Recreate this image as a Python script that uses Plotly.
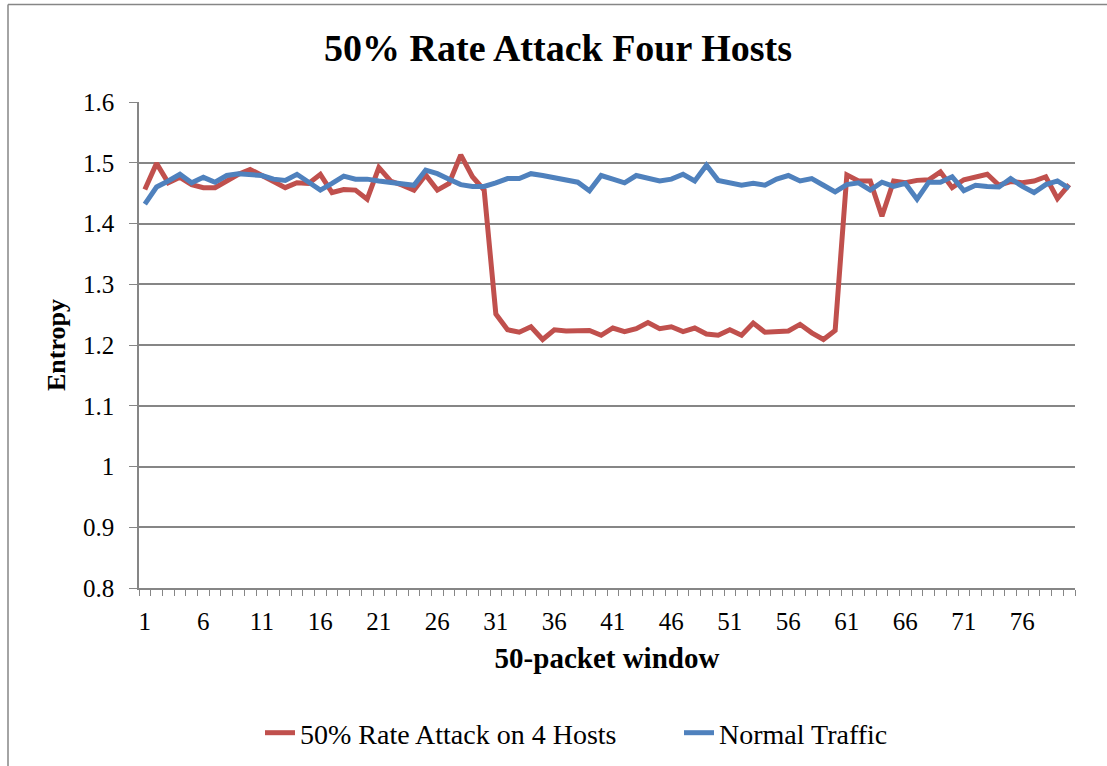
import plotly.graph_objects as go

# 50-packet window index
windows = list(range(1, 81))

attack_50pct = [
    1.456, 1.499, 1.467, 1.476, 1.464, 1.459, 1.459, 1.471, 1.481, 1.489,
    1.480, 1.469, 1.459, 1.467, 1.466, 1.481, 1.451, 1.456, 1.455, 1.440,
    1.492, 1.470, 1.463, 1.455, 1.480, 1.455, 1.466, 1.513, 1.477, 1.455,
    1.251, 1.225, 1.221, 1.230, 1.209, 1.225, 1.223, 1.224, 1.224, 1.216,
    1.228, 1.222, 1.227, 1.237, 1.227, 1.230, 1.222, 1.228, 1.218, 1.216,
    1.225, 1.216, 1.236, 1.221, 1.222, 1.223, 1.234, 1.220, 1.209, 1.224,
    1.480, 1.470, 1.470, 1.412, 1.470, 1.467, 1.471, 1.472, 1.485, 1.459,
    1.472, 1.476, 1.481, 1.463, 1.469, 1.467, 1.470, 1.477, 1.441, 1.464,
]

normal_traffic = [
    1.432, 1.460, 1.470, 1.481, 1.467, 1.476, 1.468, 1.479, 1.482, 1.481,
    1.479, 1.473, 1.471, 1.481, 1.468, 1.455, 1.466, 1.478, 1.473, 1.473,
    1.470, 1.468, 1.466, 1.463, 1.488, 1.482, 1.473, 1.464, 1.461, 1.461,
    1.467, 1.474, 1.474, 1.482, 1.479, 1.475, 1.471, 1.468, 1.454, 1.479,
    1.473, 1.467, 1.479, 1.474, 1.470, 1.473, 1.481, 1.470, 1.496, 1.471,
    1.466, 1.463, 1.466, 1.463, 1.473, 1.479, 1.470, 1.474, 1.463, 1.452,
    1.464, 1.467, 1.455, 1.468, 1.461, 1.466, 1.440, 1.468, 1.468, 1.477,
    1.454, 1.463, 1.461, 1.460, 1.474, 1.461, 1.451, 1.464, 1.470, 1.458,
]

x_tick_labels = [str(v) for v in range(1, 81, 5)]

RED = "#C0504D"
BLUE = "#4F81BD"
GRID = "#868686"
FONT = "Liberation Serif"

fig = go.Figure()
fig.add_trace(go.Scatter(
    x=windows, y=attack_50pct, mode="lines",
    name="50% Rate Attack on 4 Hosts",
    line=dict(color=RED, width=5),
))
fig.add_trace(go.Scatter(
    x=windows, y=normal_traffic, mode="lines",
    name="Normal Traffic",
    line=dict(color=BLUE, width=5),
))

W, H = 1107, 766
L, R, T, B = 139, 32, 102, 178
pw = W - L - R
ph = H - T - B

fig.update_layout(
    width=W, height=H,
    margin=dict(l=L, r=R, t=T, b=B, autoexpand=False),
    paper_bgcolor="white",
    plot_bgcolor="white",
    font=dict(family=FONT, color="#000000", size=22),
    title=dict(
        text="<b>50% Rate Attack Four Hosts</b>",
        font=dict(family=FONT, size=38, color="#000000"),
        x=558 / W, xanchor="center", y=1 - 48 / H, yanchor="middle",
    ),
    showlegend=True,
    legend=dict(
        orientation="h",
        x=(679 - L) / pw, xanchor="center",
        y=(H - B - 733) / ph, yanchor="middle",
        font=dict(family=FONT, size=28),
        entrywidth=374, entrywidthmode="pixels",
        bgcolor="rgba(0,0,0,0)",
    ),
    xaxis=dict(
        range=[0.5, 80.5],
        tickmode="array",
        tickvals=list(range(1, 81, 5)),
        ticktext=x_tick_labels,
        ticks="outside", ticklen=0, tickcolor=GRID,
        ticklabelstandoff=10,
        tickfont=dict(family=FONT, size=25),
        showgrid=False, zeroline=False,
        showline=True, linecolor=GRID, linewidth=1.5,
        minor=dict(tick0=0.5, dtick=1, ticks="outside", ticklen=6,
                   tickcolor=GRID, tickwidth=1, showgrid=False),
        title=dict(text="<b>50-packet window</b>",
                   font=dict(family=FONT, size=29), standoff=14),
    ),
    yaxis=dict(
        range=[0.8, 1.6],
        tickmode="linear", tick0=0.8, dtick=0.1,
        ticks="outside", ticklen=8, tickcolor=GRID,
        ticklabelstandoff=10,
        tickfont=dict(family=FONT, size=25),
        showgrid=True, gridcolor=GRID, gridwidth=1.5,
        zeroline=False,
        showline=True, linecolor=GRID, linewidth=1.5,
        title=dict(text="<b>Entropy</b>",
                   font=dict(family=FONT, size=26), standoff=10),
    ),
    shapes=[
        # chart area frame (left and top edges)
        dict(type="line", xref="paper", yref="paper",
             x0=(8 - L) / pw, x1=(8 - L) / pw,
             y0=(H - B - 775) / ph, y1=(H - B - 4.5) / ph,
             line=dict(color=GRID, width=1.5)),
        dict(type="line", xref="paper", yref="paper",
             x0=(8 - L) / pw, x1=(1120 - L) / pw,
             y0=(H - B - 4.5) / ph, y1=(H - B - 4.5) / ph,
             line=dict(color=GRID, width=1.5)),
    ],
)

fig.write_html("out.html")
